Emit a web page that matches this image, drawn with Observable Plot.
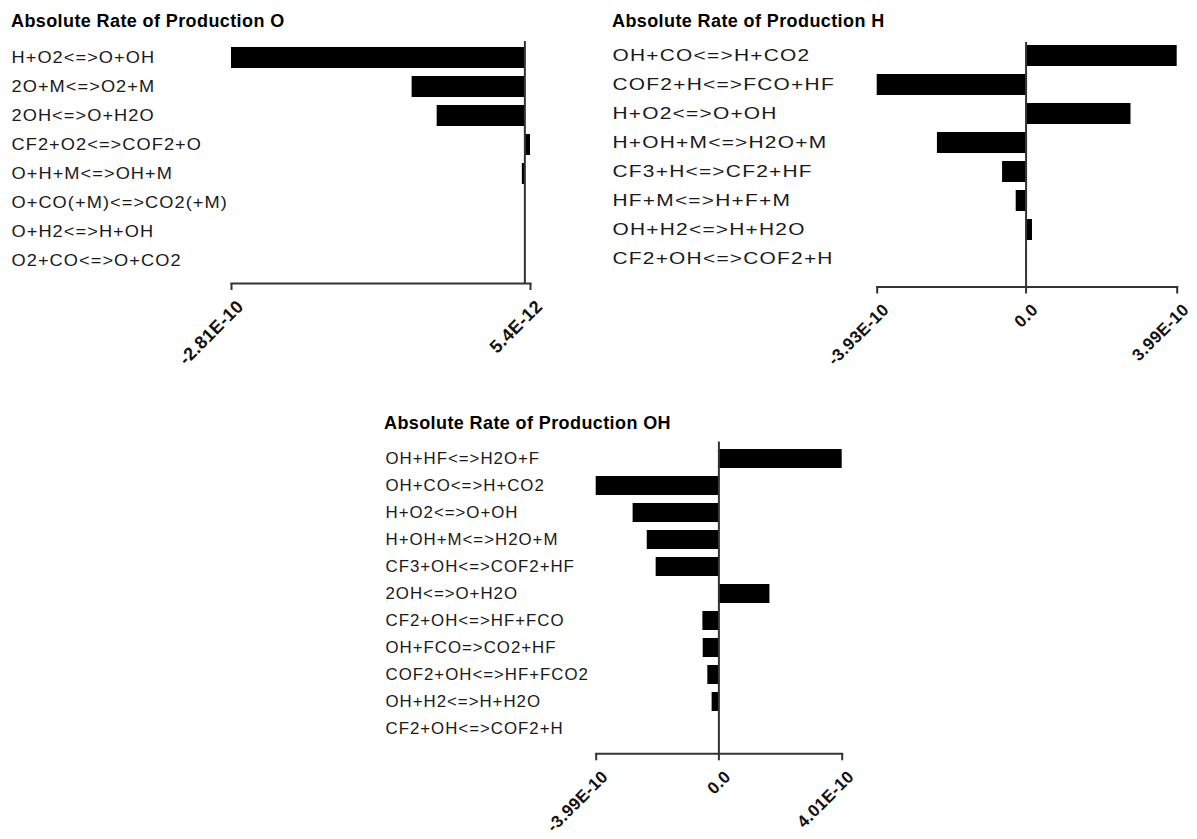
<!DOCTYPE html>
<html><head><meta charset="utf-8">
<script src="https://cdn.jsdelivr.net/npm/d3@7"></script>
<script src="https://cdn.jsdelivr.net/npm/@observablehq/plot@0.6"></script>
<style>
body{margin:0;background:#fff;}
#root{position:relative;width:1197px;height:839px;overflow:hidden;background:#fff;}
#root svg{position:absolute;left:0;top:0;}
.title{position:absolute;font-family:"Liberation Sans",Arial,sans-serif;font-weight:bold;font-size:18px;line-height:18px;letter-spacing:0.4px;white-space:nowrap;color:#000;}
.rowlab{letter-spacing:1px;}
.ticklab{letter-spacing:0.4px;}
</style></head><body><div id="root"></div>
<script>
// Panel O
const reactionsO = ["H+O2<=>O+OH","2O+M<=>O2+M","2OH<=>O+H2O","CF2+O2<=>COF2+O","O+H+M<=>OH+M","O+CO(+M)<=>CO2(+M)","O+H2<=>H+OH","O2+CO<=>O+CO2"];
const valuesO = [-2.81e-10, -1.08e-10, -8.4e-11, 5.4e-12, -2.4e-12, -3e-13, -2e-13, -1e-13];
const ticksO = [-2.81e-10, 5.4e-12];
const tickLabelsO = ["-2.81E-10", "5.4E-12"];
// Panel H
const reactionsH = ["OH+CO<=>H+CO2","COF2+H<=>FCO+HF","H+O2<=>O+OH","H+OH+M<=>H2O+M","CF3+H<=>CF2+HF","HF+M<=>H+F+M","OH+H2<=>H+H2O","CF2+OH<=>COF2+H"];
const valuesH = [3.99e-10, -3.93e-10, 2.77e-10, -2.34e-10, -6.2e-11, -2.6e-11, 1.7e-11, 1e-12];
const ticksH = [-3.93e-10, 0, 3.99e-10];
const tickLabelsH = ["-3.93E-10", "0.0", "3.99E-10"];
// Panel OH
const reactionsOH = ["OH+HF<=>H2O+F","OH+CO<=>H+CO2","H+O2<=>O+OH","H+OH+M<=>H2O+M","CF3+OH<=>COF2+HF","2OH<=>O+H2O","CF2+OH<=>HF+FCO","OH+FCO=>CO2+HF","COF2+OH<=>HF+FCO2","OH+H2<=>H+H2O","CF2+OH<=>COF2+H"];
const valuesOH = [4.01e-10, -3.99e-10, -2.79e-10, -2.33e-10, -2.04e-10, 1.66e-10, -5.2e-11, -5.1e-11, -3.6e-11, -2.2e-11, -5e-13];
const ticksOH = [-3.99e-10, 0, 4.01e-10];
const tickLabelsOH = ["-3.99E-10", "0.0", "4.01E-10"];

const titles = ["Absolute Rate of Production O", "Absolute Rate of Production H", "Absolute Rate of Production OH"];

const W = 1197, H = 839;
const root = document.getElementById("root");

function panel(cfg){
  const rows = cfg.reactions.map((r,i)=>({reaction:r, value: cfg.values[i]}));
  const ticks = cfg.ticks.map((t,i)=>({value:t, label:cfg.tickLabels[i]}));
  return Plot.plot({
    width: W, height: H,
    marginLeft: cfg.left, marginRight: W - cfg.right,
    marginTop: cfg.lineTop, marginBottom: H - cfg.axisY,
    style: {background: "transparent", overflow: "visible"},
    x: {domain: [cfg.ticks[0], cfg.ticks[cfg.ticks.length-1]], axis: null},
    y: {type: "band", domain: cfg.reactions, range: [cfg.bandTop, cfg.bandBottom], paddingInner: cfg.pad, paddingOuter: cfg.pad/2, axis: null},
    marks: [
      Plot.barX(rows, {x1: 0, x2: "value", y: "reaction", fill: "black"}),
      Plot.ruleX([0], {stroke: "#333", strokeWidth: 2}),
      Plot.frame({anchor: "bottom", stroke: "#333", strokeWidth: 2}),
      Plot.axisX({ticks: cfg.ticks, tickSize: 7, tickFormat: () => "", label: null, stroke: "#333", strokeWidth: 2}),
      Plot.text(rows, {y: "reaction", text: "reaction", frameAnchor: "left", textAnchor: "start", dx: cfg.labelX - cfg.left, dy: 0, fontSize: 17, fontFamily: "Liberation Sans", fill: "#1a1a1a", className: "rowlab"}),
      Plot.text(ticks, {x: "value", text: "label", frameAnchor: "bottom", rotate: -45, textAnchor: "end", lineAnchor: "middle", dx: 9, dy: 20, fontSize: cfg.tickFont, fontWeight: "bold", fontFamily: "Liberation Sans", fill: "#111", className: "ticklab"})
    ]
  });
}

const cfgs = [
  {reactions: reactionsO, values: valuesO, ticks: ticksO, tickLabels: tickLabelsO, left: 231, right: 530, lineTop: 41, axisY: 283, bandTop: 40.5, bandBottom: 278, pad: 0.26, labelX: 11, titleX: 11, titleY: 12, stretch: 1.07, tickFont: 18},
  {reactions: reactionsH, values: valuesH, ticks: ticksH, tickLabels: tickLabelsH, left: 876.7, right: 1176.7, lineTop: 42, axisY: 286.5, bandTop: 41, bandBottom: 273.5, pad: 0.26, labelX: 612, titleX: 612, titleY: 12, stretch: 1.23, tickFont: 17},
  {reactions: reactionsOH, values: valuesOH, ticks: ticksOH, tickLabels: tickLabelsOH, left: 595.7, right: 841.7, lineTop: 441.5, axisY: 753.3, bandTop: 441, bandBottom: 746, pad: 0.28, labelX: 385, titleX: 384, titleY: 414, stretch: 0.99, tickFont: 17}
];

cfgs.forEach((cfg, i) => {
  const svg = panel(cfg);
  root.appendChild(svg);
  svg.querySelectorAll(".rowlab text").forEach(t => {
    const L = t.getComputedTextLength();
    if (L > 0) {
      t.setAttribute("textLength", (L * cfg.stretch).toFixed(1));
      t.setAttribute("lengthAdjust", "spacingAndGlyphs");
    }
  });
  const t = document.createElement("div");
  t.className = "title";
  t.textContent = titles[i];
  t.style.left = cfg.titleX + "px";
  t.style.top = cfg.titleY + "px";
  root.appendChild(t);
});
</script>
</body></html>
